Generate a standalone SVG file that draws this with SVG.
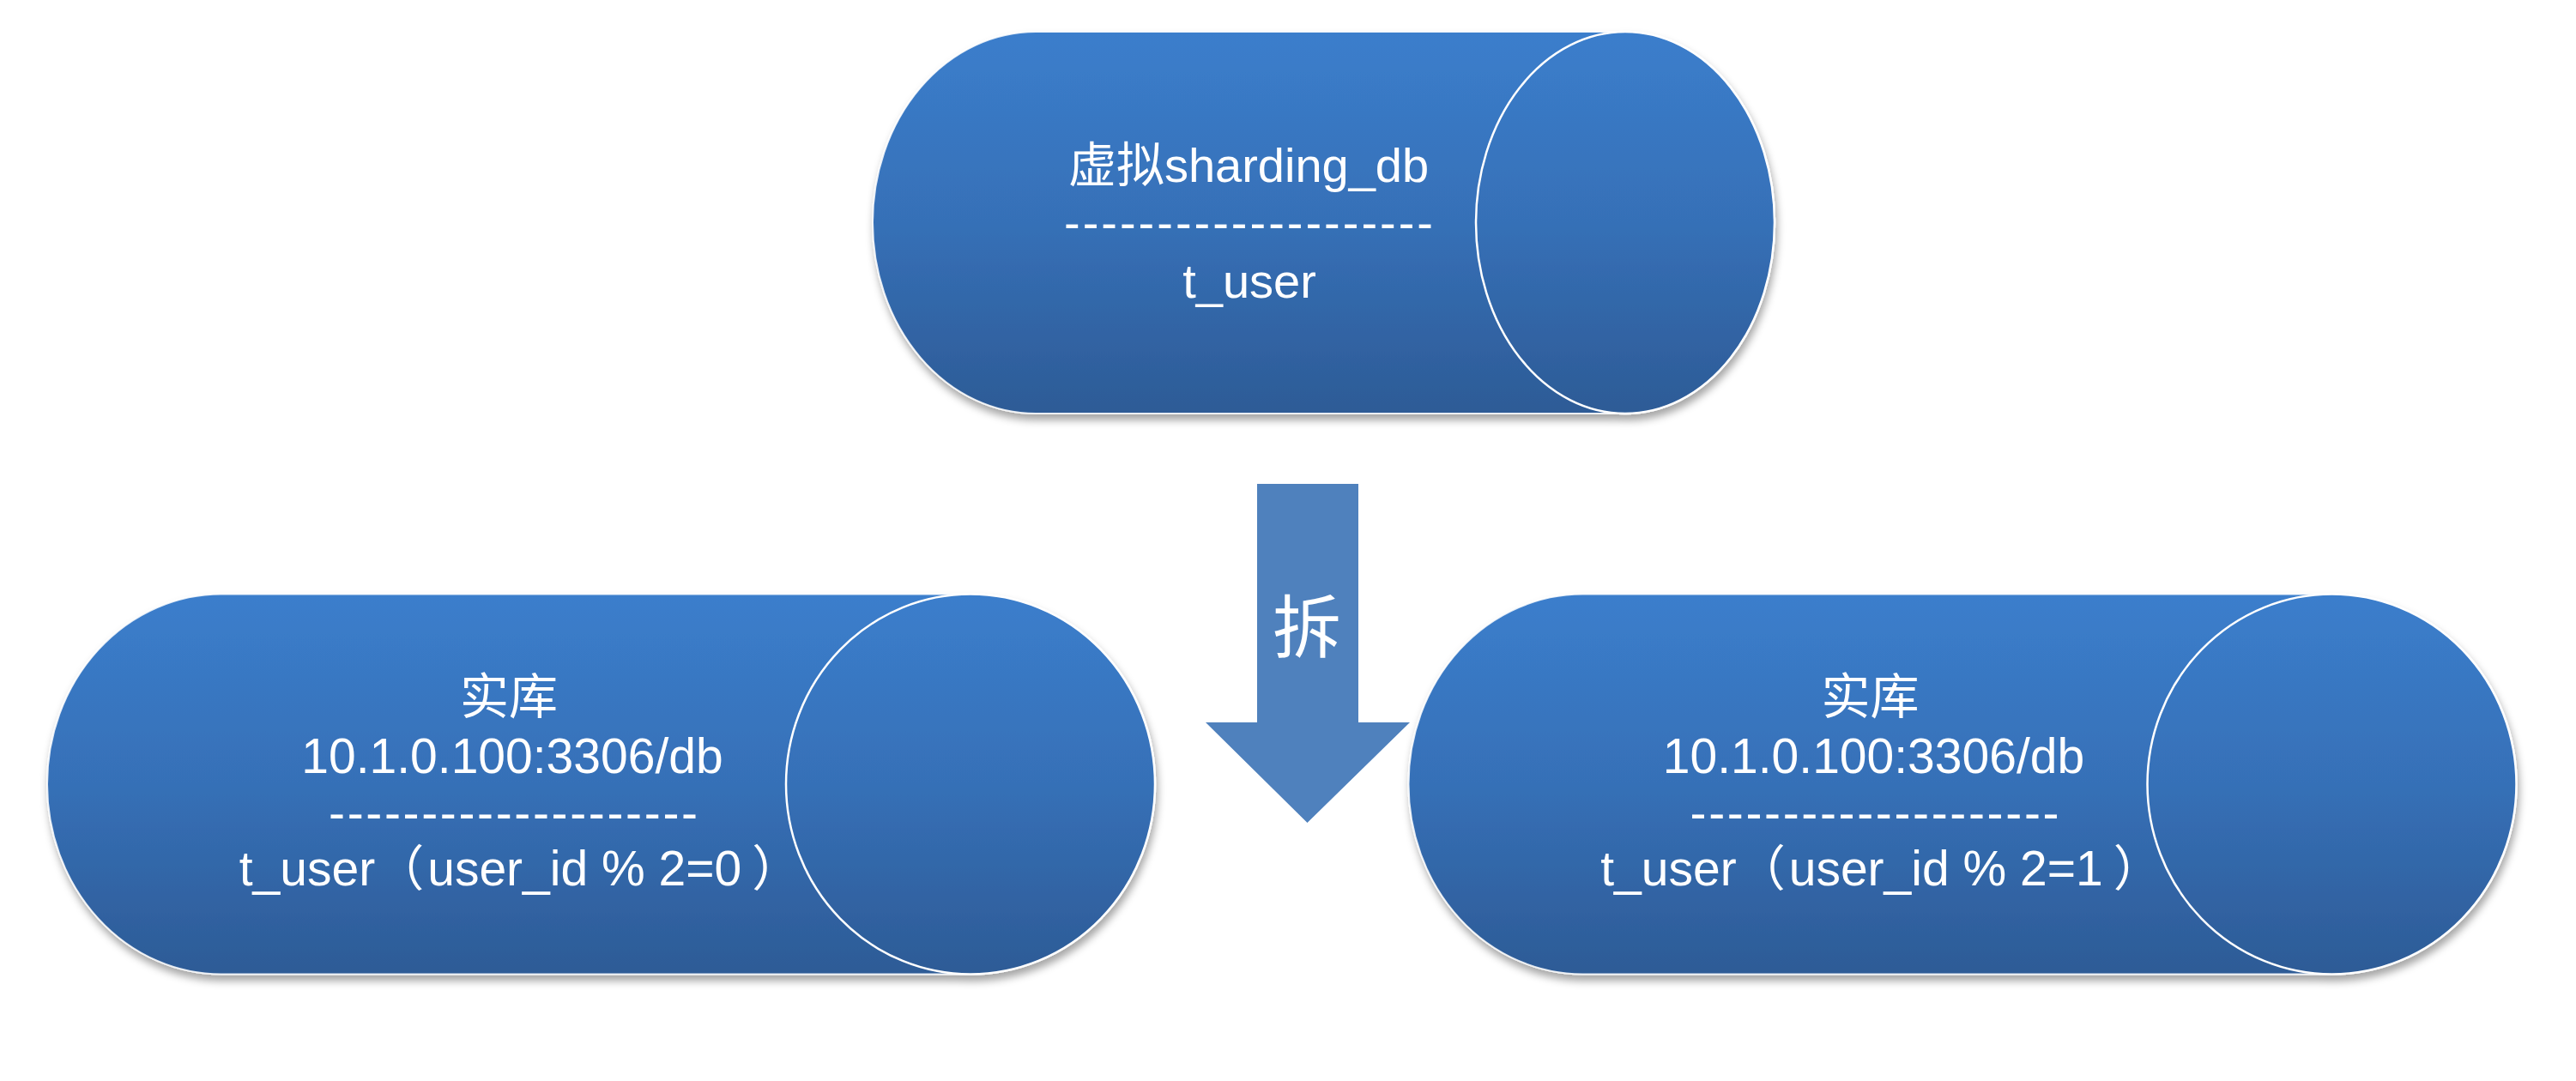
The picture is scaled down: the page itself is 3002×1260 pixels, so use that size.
<svg xmlns="http://www.w3.org/2000/svg" width="3002" height="1260" viewBox="0 0 3002 1260">
  <defs>
    <linearGradient id="blueGrad" x1="0" y1="0" x2="0" y2="1">
      <stop offset="0" stop-color="#3b7ecc"/>
      <stop offset="0.5" stop-color="#3670b7"/>
      <stop offset="1" stop-color="#2d5b96"/>
    </linearGradient>
    <filter id="shadow" x="-5%" y="-5%" width="110%" height="115%">
      <feDropShadow dx="2" dy="7" stdDeviation="5" flood-color="#000" flood-opacity="0.35"/>
    </filter>
  </defs>
  <style>
    .body { fill: url(#blueGrad); stroke: #ffffff; stroke-width: 2; stroke-opacity: 0.85; }
    .cap { fill: url(#blueGrad); stroke: #ffffff; stroke-width: 2.5; }
    .label { fill: #ffffff; font-family: "Liberation Sans", "Noto Sans CJK SC", sans-serif; text-anchor: middle; }
    .top { font-size: 56px; }
    .bot { font-size: 57px; }
    .arrow { fill: #4f81bd; }
    .arrowLabel { fill: #ffffff; font-family: "Noto Sans CJK SC", sans-serif; font-size: 80px; text-anchor: middle; }
  </style>
  <rect width="3002" height="1260" fill="#ffffff"/>

  <g id="node-virtual-db">
    <g filter="url(#shadow)">
      <path class="body" d="M1207,37 H1894 A174,222.5 0 0 1 1894,482 H1207 A190,222.5 0 0 1 1207,37 Z"/>
      <ellipse class="cap" cx="1894" cy="259.5" rx="174" ry="222.5"/>
    </g>
    <text class="label top" x="1455" y="212">虚拟sharding_db</text>
    <text class="label top" x="1455" y="279" textLength="430" lengthAdjust="spacing">--------------------</text>
    <text class="label top" x="1456" y="347">t_user</text>
  </g>

  <g id="node-real-db-0">
    <g filter="url(#shadow)">
      <path class="body" d="M258,692.5 H1131 A215,221.5 0 0 1 1131,1135.5 H258 A203,221.5 0 0 1 258,692.5 Z"/>
      <ellipse class="cap" cx="1131" cy="914" rx="215" ry="221.5"/>
    </g>
    <text class="label bot" x="593" y="832">实库</text>
    <text class="label bot" x="597" y="901">10.1.0.100:3306/db</text>
    <text class="label bot" x="598" y="967" textLength="430" lengthAdjust="spacing">--------------------</text>
    <text class="label bot" x="606" y="1032">t_user（<tspan dx="4">user_id % 2=0</tspan><tspan dx="12">）</tspan></text>
  </g>

  <g id="node-real-db-1">
    <g filter="url(#shadow)">
      <path class="body" d="M1844.5,692.5 H2717.5 A215,221.5 0 0 1 2717.5,1135.5 H1844.5 A203,221.5 0 0 1 1844.5,692.5 Z"/>
      <ellipse class="cap" cx="2717.5" cy="914" rx="215" ry="221.5"/>
    </g>
    <text class="label bot" x="2179.5" y="832">实库</text>
    <text class="label bot" x="2183.5" y="901">10.1.0.100:3306/db</text>
    <text class="label bot" x="2184.5" y="967" textLength="430" lengthAdjust="spacing">--------------------</text>
    <text class="label bot" x="2192.5" y="1032">t_user（<tspan dx="4">user_id % 2=1</tspan><tspan dx="12">）</tspan></text>
  </g>

  <g id="connectors">
    <g id="split-arrow">
      <path class="arrow" d="M1465,564 H1583 V842 H1643 L1523.5,959 L1405,842 H1465 Z"/>
      <text class="arrowLabel" x="1523" y="760">拆</text>
    </g>
  </g>
</svg>
